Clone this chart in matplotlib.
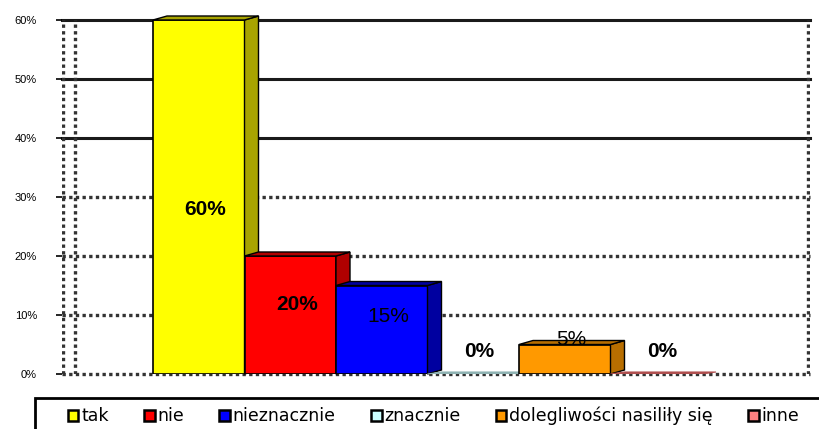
import matplotlib
matplotlib.use('Agg')

import matplotlib.pyplot as plt
from matplotlib.patches import Patch, Rectangle, Polygon

# data
categories = ["tak", "nie", "nieznacznie", "znacznie",
              "dolegliwości nasiliły się", "inne"]
values = [60, 20, 15, 0, 5, 0]
yticks = [0, 10, 20, 30, 40, 50, 60]

front_colors = ["#FFFF00", "#FF0000", "#0000FF", "#CCFFFF", "#FF9900", "#FF8080"]
side_colors = ["#A8A400", "#B00000", "#0000A0", "#8FB3B3", "#B86E00", "#B05050"]
label_bold = [True, True, False, True, False, True]

W, H = 819, 429
fig = plt.figure(figsize=(W / 100, H / 100), dpi=100)
ax = fig.add_axes([62 / W, 1 - 374 / H, (810 - 62) / W, (374 - 20) / H])

# pixel scale of the plot
px_unit = 91.5
ax_w = 810 - 62
x_left = -0.5 - (153 - 62) / px_unit
ax.set_xlim(x_left, x_left + ax_w / px_unit)
ax.set_ylim(0, 60)

dx = 14 / px_unit          # 3D depth in x (data units)
dy = 4 / 354 * 60          # 3D depth in y (data units)

# gridlines: top ones solid, lower ones dithered
for t in yticks:
    if t >= 40:
        ax.axhline(t, color="#1a1a1a", lw=2.2, zorder=1, clip_on=False)
    else:
        ax.axhline(t, color="#333333", lw=2.4, ls=(0, (1, 1)), zorder=1,
                   clip_on=False)

# left wall and right border
wall_w = 13 / px_unit
ax.axvline(x_left + 1 / px_unit, color="#333333", lw=2.4, ls=(0, (1, 1)), zorder=1)
ax.axvline(x_left + wall_w, color="#333333", lw=2.4, ls=(0, (1, 1)), zorder=1)
ax.axvline(x_left + (808 - 62) / px_unit, color="#333333", lw=2.4,
           ls=(0, (1, 1)), zorder=1)

# bars with 3D side and top faces
for i, (v, fc, sc) in enumerate(zip(values, front_colors, side_colors)):
    x0, x1 = i - 0.5, i + 0.5
    if v > 0:
        ax.add_patch(Rectangle((x0, 0), 1, v, facecolor=fc, edgecolor="black",
                               lw=1.2, zorder=3))
        ax.add_patch(Polygon([(x1, 0), (x1 + dx, dy), (x1 + dx, v + dy), (x1, v)],
                             closed=True, facecolor=sc, edgecolor="black",
                             lw=1.0, zorder=3, clip_on=False))
        ax.add_patch(Polygon([(x0, v), (x0 + dx, v + dy), (x1 + dx, v + dy), (x1, v)],
                             closed=True, facecolor=sc, edgecolor="black",
                             lw=1.0, zorder=3, clip_on=False))
    else:
        ax.add_patch(Polygon([(x0, 0), (x0 + dx, dy * 0.5), (x1 + dx, dy * 0.5), (x1, 0)],
                             closed=True, facecolor=sc, edgecolor=sc,
                             lw=0.8, zorder=3))

# value labels
for i, (v, b) in enumerate(zip(values, label_bold)):
    ax.text(i + 0.07, 0.4 * v + 3.8, f"{v}%", ha="center", va="center",
            fontsize=15, fontweight="bold" if b else "normal",
            family="Liberation Sans", color="black", zorder=5)

# axes styling
for s in ax.spines.values():
    s.set_visible(False)
ax.set_xticks([])
ax.set_yticks(yticks)
ax.set_yticklabels([f"{t}%" for t in yticks], family="Liberation Sans", fontsize=8)
ax.tick_params(axis="y", direction="out", length=4, width=1.2, pad=14)

# legend frame
fig.add_artist(Rectangle((35 / W, -0.05), 1.0, 0.05 + 1 - 398 / H,
                         transform=fig.transFigure, fill=False,
                         edgecolor="black", lw=2, clip_on=False))

handles = [Patch(facecolor=c, edgecolor="black", lw=1.8) for c in front_colors]
fig.legend(handles, categories, loc="center left",
           bbox_to_anchor=(68 / W, 1 - 416 / H), ncol=6, frameon=False,
           prop={"family": "DejaVu Sans", "size": 12.5},
           handlelength=0.6, handleheight=0.6, handletextpad=0.15,
           columnspacing=2.05, borderaxespad=0, borderpad=0)

plt.savefig("out.png", dpi=100)
